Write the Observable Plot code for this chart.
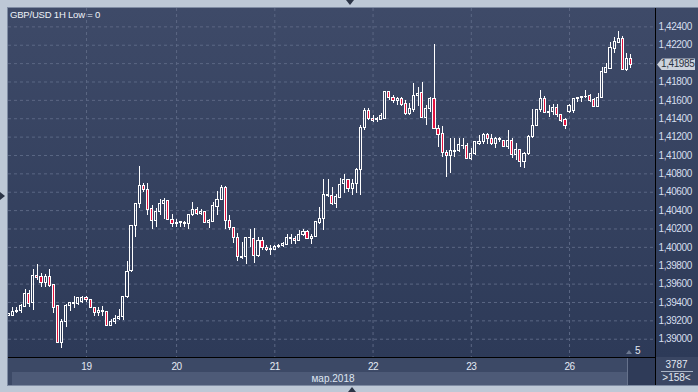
<!DOCTYPE html>
<html><head><meta charset="utf-8">
<script src="https://cdn.jsdelivr.net/npm/d3@7"></script>
<script src="https://cdn.jsdelivr.net/npm/@observablehq/plot@0.6"></script>
<style>
body{margin:0;background:#bdc8d6;}
#root{position:relative;width:698px;height:392px;overflow:hidden;background:#bdc8d6;font-family:"Liberation Sans",Arial,sans-serif;}
.abs{position:absolute;}
#root svg text{letter-spacing:-0.4px;}
</style></head>
<body><div id="root"></div>
<script>
// ---- data (GBP/USD 1H candles) ----
const open = [1.39258,1.39250,1.39294,1.39305,1.39348,1.39494,1.39396,1.39690,1.39682,1.39613,
1.39682,1.39592,1.39359,1.38956,1.39182,1.39363,1.39378,1.39378,1.39403,1.39454,
1.39428,1.39341,1.39287,1.39294,1.39298,1.39149,1.39185,1.39218,1.39247,1.39457,
1.39741,1.40231,1.40467,1.40663,1.40619,1.40419,1.40285,1.40387,1.40474,1.40503,
1.40303,1.40256,1.40260,1.40267,1.40249,1.40347,1.40408,1.40365,1.40390,1.40267,
1.40274,1.40437,1.40517,1.40648,1.40285,1.40212,1.40104,1.39886,1.39900,1.40100,
1.40093,1.39908,1.40074,1.39995,1.39973,1.39973,1.40009,1.40013,1.40031,1.40096,
1.40096,1.40074,1.40136,1.40162,1.40089,1.40118,1.40267,1.40310,1.40575,1.40554,
1.40474,1.40539,1.40685,1.40735,1.40637,1.40685,1.40837,1.41302,1.41483,1.41400,
1.41382,1.41389,1.41400,1.41690,1.41628,1.41592,1.41618,1.41563,1.41447,1.41491,
1.41643,1.41679,1.41411,1.41501,1.41618,1.41291,1.41236,1.41026,1.40990,1.41037,
1.41044,1.41106,1.41102,1.40964,1.41011,1.41120,1.41146,1.41222,1.41182,1.41128,
1.41164,1.41157,1.41091,1.41157,1.41000,1.41055,1.40928,1.41011,1.41200,1.41324,
1.41491,1.41614,1.41462,1.41472,1.41516,1.41440,1.41382,1.41472,1.41483,1.41610,
1.41625,1.41632,1.41650,1.41599,1.41527,1.41628,1.41901,1.41945,1.42162,1.42227,
1.42264,1.41933,1.42053];
const high = [1.39280,1.39341,1.39341,1.39378,1.39537,1.39530,1.39755,1.39813,1.39719,1.39704,
1.39759,1.39592,1.39367,1.39211,1.39378,1.39403,1.39465,1.39457,1.39468,1.39468,
1.39428,1.39348,1.39348,1.39359,1.39298,1.39211,1.39258,1.39327,1.39465,1.39846,
1.40231,1.40467,1.40880,1.40692,1.40692,1.40456,1.40419,1.40517,1.40535,1.40510,
1.40358,1.40300,1.40285,1.40285,1.40347,1.40492,1.40437,1.40408,1.40390,1.40300,
1.40492,1.40608,1.40673,1.40663,1.40347,1.40220,1.40147,1.40056,1.40100,1.40194,
1.40209,1.40104,1.40104,1.40020,1.40020,1.40020,1.40031,1.40056,1.40136,1.40136,
1.40118,1.40183,1.40194,1.40183,1.40136,1.40274,1.40430,1.40735,1.40735,1.40648,
1.40572,1.40746,1.40790,1.40735,1.40735,1.40855,1.41327,1.41509,1.41509,1.41436,
1.41418,1.41454,1.41701,1.41701,1.41654,1.41636,1.41636,1.41599,1.41563,1.41781,
1.41745,1.41799,1.41545,1.41636,1.42209,1.41327,1.41316,1.41055,1.41182,1.41182,
1.41182,1.41182,1.41128,1.41080,1.41146,1.41218,1.41236,1.41236,1.41229,1.41200,
1.41200,1.41157,1.41273,1.41182,1.41128,1.41055,1.41037,1.41218,1.41498,1.41498,
1.41708,1.41643,1.41545,1.41552,1.41552,1.41447,1.41400,1.41556,1.41610,1.41632,
1.41647,1.41708,1.41665,1.41618,1.41679,1.41962,1.41999,1.42235,1.42282,1.42351,
1.42300,1.42108,1.42100];
const low = [1.39250,1.39250,1.39276,1.39276,1.39341,1.39348,1.39312,1.39639,1.39566,1.39566,
1.39566,1.39276,1.38949,1.38895,1.39131,1.39305,1.39330,1.39367,1.39392,1.39403,
1.39330,1.39250,1.39250,1.39250,1.39138,1.39138,1.39160,1.39203,1.39203,1.39439,
1.39730,1.40104,1.40419,1.40601,1.40347,1.40191,1.40220,1.40347,1.40303,1.40292,
1.40220,1.40220,1.40220,1.40220,1.40194,1.40339,1.40347,1.40347,1.40263,1.40209,
1.40267,1.40347,1.40510,1.40194,1.40183,1.40038,1.39846,1.39864,1.39813,1.40002,
1.39828,1.39893,1.39966,1.39958,1.39911,1.39966,1.39984,1.40002,1.40020,1.40031,
1.40027,1.40067,1.40118,1.40082,1.40031,1.40104,1.40249,1.40183,1.40546,1.40456,
1.40419,1.40528,1.40583,1.40601,1.40565,1.40583,1.40565,1.41273,1.41382,1.41364,
1.41356,1.41382,1.41389,1.41599,1.41570,1.41545,1.41534,1.41436,1.41436,1.41472,
1.41534,1.41411,1.41327,1.41472,1.41280,1.41084,1.40982,1.40765,1.40808,1.40982,
1.41030,1.41062,1.40953,1.40946,1.41000,1.41109,1.41120,1.41120,1.41109,1.41073,
1.41146,1.41084,1.41062,1.40964,1.40946,1.40873,1.40855,1.41000,1.41182,1.41316,
1.41472,1.41454,1.41418,1.41436,1.41418,1.41364,1.41280,1.41462,1.41462,1.41581,
1.41581,1.41618,1.41581,1.41520,1.41520,1.41618,1.41890,1.41937,1.42108,1.42216,
1.41926,1.41919,1.41944];
const close = [1.39272,1.39294,1.39309,1.39359,1.39494,1.39385,1.39690,1.39664,1.39613,1.39682,
1.39581,1.39341,1.38956,1.39182,1.39363,1.39392,1.39392,1.39446,1.39446,1.39428,
1.39341,1.39287,1.39305,1.39305,1.39142,1.39192,1.39221,1.39247,1.39465,1.39737,
1.40231,1.40467,1.40663,1.40619,1.40408,1.40285,1.40390,1.40467,1.40503,1.40303,
1.40249,1.40267,1.40271,1.40249,1.40347,1.40408,1.40365,1.40390,1.40267,1.40285,
1.40445,1.40517,1.40648,1.40285,1.40212,1.40104,1.39893,1.39900,1.40100,1.40104,
1.39908,1.40074,1.39995,1.39973,1.39980,1.40009,1.40016,1.40038,1.40104,1.40104,
1.40074,1.40136,1.40162,1.40093,1.40118,1.40274,1.40310,1.40565,1.40554,1.40474,
1.40546,1.40681,1.40735,1.40637,1.40685,1.40837,1.41302,1.41483,1.41400,1.41374,
1.41396,1.41425,1.41690,1.41628,1.41592,1.41618,1.41552,1.41447,1.41509,1.41643,
1.41672,1.41411,1.41509,1.41618,1.41291,1.41226,1.41026,1.40990,1.41044,1.41051,
1.41109,1.41099,1.40964,1.41011,1.41146,1.41146,1.41222,1.41182,1.41128,1.41175,
1.41175,1.41091,1.41157,1.41000,1.41055,1.40928,1.41011,1.41200,1.41324,1.41491,
1.41614,1.41462,1.41476,1.41516,1.41436,1.41374,1.41316,1.41534,1.41610,1.41625,
1.41632,1.41639,1.41592,1.41527,1.41628,1.41908,1.41952,1.42169,1.42231,1.42264,
1.41933,1.42053,1.41985];
const dayTicks = [19, 41, 65, 89, 113, 137];   // bar index of each day start
const dayLabels = ["19", "20", "21", "22", "23", "26"];
const priceTicks = [1.390,1.392,1.394,1.396,1.398,1.400,1.402,1.404,1.406,1.408,
  1.410,1.412,1.414,1.416,1.418,1.420,1.422,1.424];
const title = "GBP/USD 1H Low = 0";
const monthLabel = "мар.2018";
const barsTotal = "3787";
const barsVisible = ">158<";
const shiftLabel = "5";

// ---- build ----
const candles = open.map((o, i) => ({i, open: o, high: high[i], low: low[i], close: close[i]}));
const RED = "#e3123e";
const fmt = d => d.toFixed(5).replace(".", ",");
const last = close[close.length - 1];
const labelTicks = priceTicks.filter(t => Math.abs(t - last) > 0.0009); // the price tag hides the nearest label

const root = document.getElementById("root");
function box(css, text) {
  const d = document.createElement("div");
  d.className = "abs";
  d.style.cssText = css;
  if (text != null) d.textContent = text;
  root.appendChild(d);
  return d;
}

// chrome behind the chart
box("left:7px;top:7px;width:692px;height:379px;background:#7f8ca3;");
box("left:8px;top:8px;width:690px;height:349px;background:linear-gradient(to bottom,#3e4a68,#2d3a58);");
box("left:8px;top:357px;width:619px;height:15px;background:#3c4966;");
box("left:8px;top:372px;width:4px;height:13px;background:#3c4966;");
box("left:12px;top:372px;width:615px;height:13px;background:#4d5a77;");
box("left:627px;top:358px;width:28px;height:27px;background:#2f3b58;border-left:1px solid #66728c;box-sizing:border-box;");
box("left:655px;top:357px;width:43px;height:28px;background:#3a4663;");

const chart = Plot.plot({
  width: 690,
  height: 377,
  marginLeft: 0,
  marginTop: 0,
  marginRight: 43,
  marginBottom: 28,
  style: {background: "transparent", color: "#d6dfee", fontFamily: "'Liberation Sans', Arial, sans-serif", fontSize: "10px", overflow: "visible"},
  x: {type: "linear", domain: [-0.06, 158]},
  y: {domain: [1.38801, 1.42600]},
  marks: [
    Plot.gridY(priceTicks, {stroke: "#5b6784", strokeOpacity: 1, strokeDasharray: "3,3"}),
    Plot.gridX(dayTicks, {stroke: "#5b6784", strokeOpacity: 1, strokeDasharray: "3,3"}),
    Plot.ruleX(candles, {x: "i", y1: "low", y2: d => Math.min(d.open, d.close), stroke: "white", strokeWidth: 1, shapeRendering: "crispEdges", clip: true}),
    Plot.ruleX(candles, {x: "i", y1: d => Math.max(d.open, d.close), y2: "high", stroke: "white", strokeWidth: 1, shapeRendering: "crispEdges", clip: true}),
    Plot.rect(candles, {
      x1: d => d.i - 0.26, x2: d => d.i + 0.26,
      y1: d => Math.min(d.open, d.close), y2: d => Math.max(d.open, d.close),
      fill: d => d.close < d.open ? RED : "none",
      stroke: "white", strokeWidth: 1, shapeRendering: "crispEdges", clip: true
    }),
    Plot.axisY(labelTicks, {anchor: "right", tickSize: 0, tickPadding: 3, tickFormat: fmt, label: null, fill: "#d6dfee"}),
    Plot.axisX(dayTicks, {anchor: "bottom", tickSize: 0, tickPadding: 5, tickFormat: d => dayLabels[dayTicks.indexOf(d)], label: null, fill: "#e4eaf4"})
  ]
});
chart.style.position = "absolute";
chart.style.left = "8px";
chart.style.top = "8px";
root.appendChild(chart);

// chrome in front
box("left:8px;top:357px;width:647px;height:1px;background:#000;");
box("left:655px;top:8px;width:1px;height:377px;background:#000;");
box("left:10px;top:9px;font-size:9.5px;color:#eef2f8;letter-spacing:-0.2px;white-space:nowrap;", title);
box("left:250px;top:373px;width:166px;text-align:center;font-size:10px;line-height:11px;color:#dfe6f2;", monthLabel);
box("left:655px;top:359px;width:43px;text-align:center;font-size:10px;line-height:11px;color:#e2e8f2;", barsTotal);
box("left:661px;top:371px;width:32px;height:1px;background:#aab4c6;");
box("left:655px;top:372px;width:43px;text-align:center;font-size:10px;line-height:11px;color:#e2e8f2;", barsVisible);
box("left:635px;top:345px;font-size:10px;line-height:11px;color:#e2e8f2;", shiftLabel);
box("left:626px;top:350px;width:0;height:0;border-left:3px solid transparent;border-right:3px solid transparent;border-bottom:4px solid #6c7890;");

// current price tag
const yc = chart.scale("y").apply(last) + 8;
box(`left:657px;top:${yc - 6}px;width:38px;height:12px;background:#cdd3dc;clip-path:polygon(0 50%,5px 0,100% 0,100% 100%,5px 100%);`);
box(`left:661px;top:${yc - 6}px;width:34px;height:12px;line-height:12px;font-size:10px;color:#2a3242;letter-spacing:-0.4px;`, fmt(last));

// small frame arrows
box("left:346px;top:0px;width:0;height:0;border-left:4px solid transparent;border-right:4px solid transparent;border-top:5px solid #2b3446;");
box("left:0px;top:192px;width:0;height:0;border-top:4px solid transparent;border-bottom:4px solid transparent;border-left:5px solid #2b3446;");
box("left:348px;top:387px;width:0;height:0;border-left:4px solid transparent;border-right:4px solid transparent;border-bottom:5px solid #2b3446;");
</script>
</body></html>
